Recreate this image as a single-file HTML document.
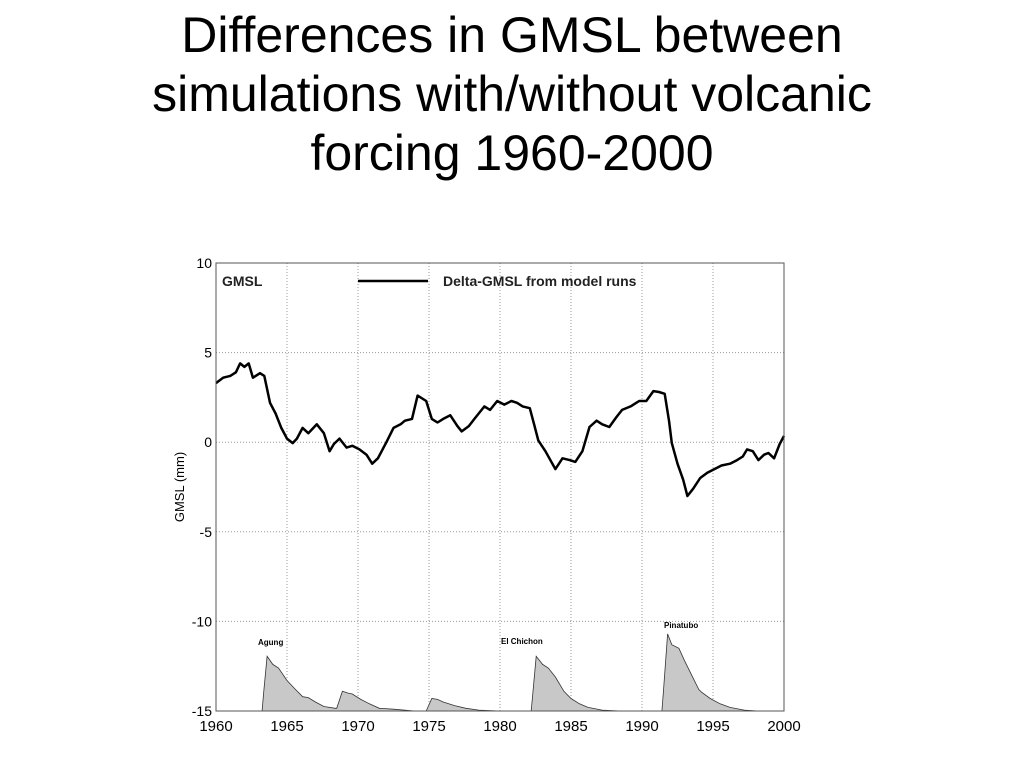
<!DOCTYPE html>
<html><head><meta charset="utf-8"><style>
body{margin:0;background:#fff;width:1024px;height:768px;overflow:hidden;font-family:"Liberation Sans",sans-serif}
h1{position:absolute;top:6px;left:0;width:1024px;margin:0;text-align:center;font-weight:normal;font-size:50px;line-height:59px;color:#000;letter-spacing:0px}
svg{position:absolute;left:0;top:0}
</style></head><body>
<h1>Differences in GMSL between<br>simulations with/without volcanic<br>forcing 1960-2000</h1>
<svg width="1024" height="768" font-family="Liberation Sans, sans-serif">
<g id="grid"></g>
<g id="vol"></g>
<g id="main"></g>
<rect x="216" y="263" width="568" height="448" fill="none" stroke="#555" stroke-width="1"/>
<g id="ticks"></g>
<text x="222" y="286" font-size="14" font-weight="bold" fill="#222">GMSL</text>
<line x1="358" y1="281" x2="428" y2="281" stroke="#000" stroke-width="2.5"/>
<text x="443" y="286" font-size="14" font-weight="bold" fill="#222">Delta-GMSL from model runs</text>
<text transform="translate(184,487) rotate(-90)" text-anchor="middle" font-size="13">GMSL (mm)</text>
<text x="258" y="645" font-size="8" font-weight="bold">Agung</text>
<text x="501" y="644" font-size="8" font-weight="bold">El Chichon</text>
<text x="664" y="628" font-size="8" font-weight="bold">Pinatubo</text>
</svg>
<script>
const xTicks=[1960,1965,1970,1975,1980,1985,1990,1995,2000];
const yTicks=[10,5,0,-5,-10,-15];
const years=[1960,1960.5,1961,1961.4,1961.7,1962,1962.3,1962.6,1963.1,1963.4,1963.8,1964.2,1964.6,1965,1965.4,1965.7,1966.1,1966.5,1967.1,1967.6,1968,1968.3,1968.7,1969.2,1969.6,1970.1,1970.6,1971,1971.4,1972,1972.5,1973,1973.3,1973.8,1974.2,1974.8,1975.2,1975.6,1976,1976.5,1977,1977.3,1977.8,1978.2,1978.9,1979.3,1979.8,1980.3,1980.8,1981.2,1981.6,1982.1,1982.4,1982.7,1983.2,1983.9,1984.4,1984.9,1985.3,1985.8,1986.3,1986.8,1987.2,1987.7,1988.2,1988.6,1989.2,1989.8,1990.3,1990.8,1991.2,1991.6,1991.9,1992.1,1992.5,1992.9,1993.2,1993.6,1994.1,1994.6,1995.1,1995.6,1996.2,1996.7,1997.1,1997.4,1997.8,1998.2,1998.6,1998.9,1999.3,1999.7,2000];
const gmsl=[3.3,3.6,3.7,3.9,4.4,4.2,4.4,3.6,3.85,3.7,2.2,1.6,0.8,0.2,-0.05,0.2,0.8,0.5,1.0,0.5,-0.5,-0.1,0.2,-0.3,-0.2,-0.4,-0.7,-1.2,-0.9,0.0,0.8,1.0,1.2,1.3,2.6,2.3,1.3,1.1,1.3,1.5,0.9,0.6,0.9,1.3,2.0,1.8,2.3,2.1,2.3,2.2,2.0,1.9,1.0,0.1,-0.5,-1.5,-0.9,-1.0,-1.1,-0.5,0.85,1.2,1.0,0.85,1.4,1.8,2.0,2.3,2.3,2.85,2.8,2.7,1.2,-0.05,-1.2,-2.1,-3.0,-2.6,-2.0,-1.7,-1.5,-1.3,-1.2,-1.0,-0.8,-0.4,-0.5,-1.0,-0.7,-0.6,-0.9,-0.1,0.35];
const volYears=[1963.25,1963.35,1963.6,1964.0,1964.4,1965,1965.6,1966.1,1966.5,1967,1967.6,1968.4,1968.5,1968.9,1969.3,1969.6,1970.2,1970.8,1971.5,1972.5,1974.0,1974.8,1975.2,1975.6,1976,1976.8,1977.6,1978.5,1980.0,1982.1,1982.2,1982.55,1983.0,1983.4,1983.9,1984.5,1985,1985.6,1986.2,1987.2,1988.5,1991.4,1991.5,1991.8,1992.1,1992.6,1993.0,1993.5,1994.0,1994.2,1994.8,1995.5,1996.2,1997.2,1998.2];
const volValues=[-15,-14,-11.95,-12.4,-12.6,-13.3,-13.8,-14.2,-14.25,-14.5,-14.75,-14.85,-14.85,-13.9,-14.0,-14.05,-14.35,-14.6,-14.85,-14.9,-15,-15,-14.3,-14.35,-14.5,-14.7,-14.85,-14.95,-15,-15,-15,-11.95,-12.4,-12.6,-13.1,-13.9,-14.3,-14.6,-14.8,-14.95,-15,-15,-14,-10.7,-11.3,-11.5,-12.2,-13.0,-13.8,-13.95,-14.3,-14.6,-14.8,-14.95,-15];
const X=y=>216+(y-1960)*568/40, Y=v=>711-(v+15)*448/25;
const NS='http://www.w3.org/2000/svg';
function mk(t,a,p){const e=document.createElementNS(NS,t);for(const k in a)e.setAttribute(k,a[k]);p.appendChild(e);return e;}
const grid=document.getElementById('grid'),ticks=document.getElementById('ticks');
xTicks.forEach(t=>{
 if(t>1960&&t<2000){const l=mk('line',{x1:X(t),x2:X(t),y1:263,y2:711,stroke:'#999','stroke-dasharray':'1,2'},grid);
 
 }
 const s=mk('text',{x:X(t),y:731,'text-anchor':'middle','font-size':'15'},ticks);s.textContent=t;
 
 
});
yTicks.forEach(t=>{
 if(t<10&&t>-15){const l=mk('line',{x1:216,x2:784,y1:Y(t),y2:Y(t),stroke:'#999','stroke-dasharray':'1,2'},grid);
 
 }
 const s=mk('text',{x:212,y:Y(t)+5,'text-anchor':'end','font-size':'14'},ticks);s.textContent=t;
 
 
});
let d='M'+X(volYears[0])+','+Y(-15);
volYears.forEach((y,i)=>{d+=' L'+X(y).toFixed(1)+','+Y(volValues[i]).toFixed(1);});
d+=' L'+X(volYears[volYears.length-1])+','+Y(-15)+'Z';
const va=mk('path',{d:d,fill:'#c8c8c8',stroke:'#333','stroke-width':'0.8'},document.getElementById('vol'));


const pts=years.map((y,i)=>X(y).toFixed(1)+','+Y(gmsl[i]).toFixed(1)).join(' ');
const ln=mk('polyline',{points:pts,fill:'none',stroke:'#000','stroke-width':'2.5','stroke-linejoin':'round'},document.getElementById('main'));


</script>
</body></html>
